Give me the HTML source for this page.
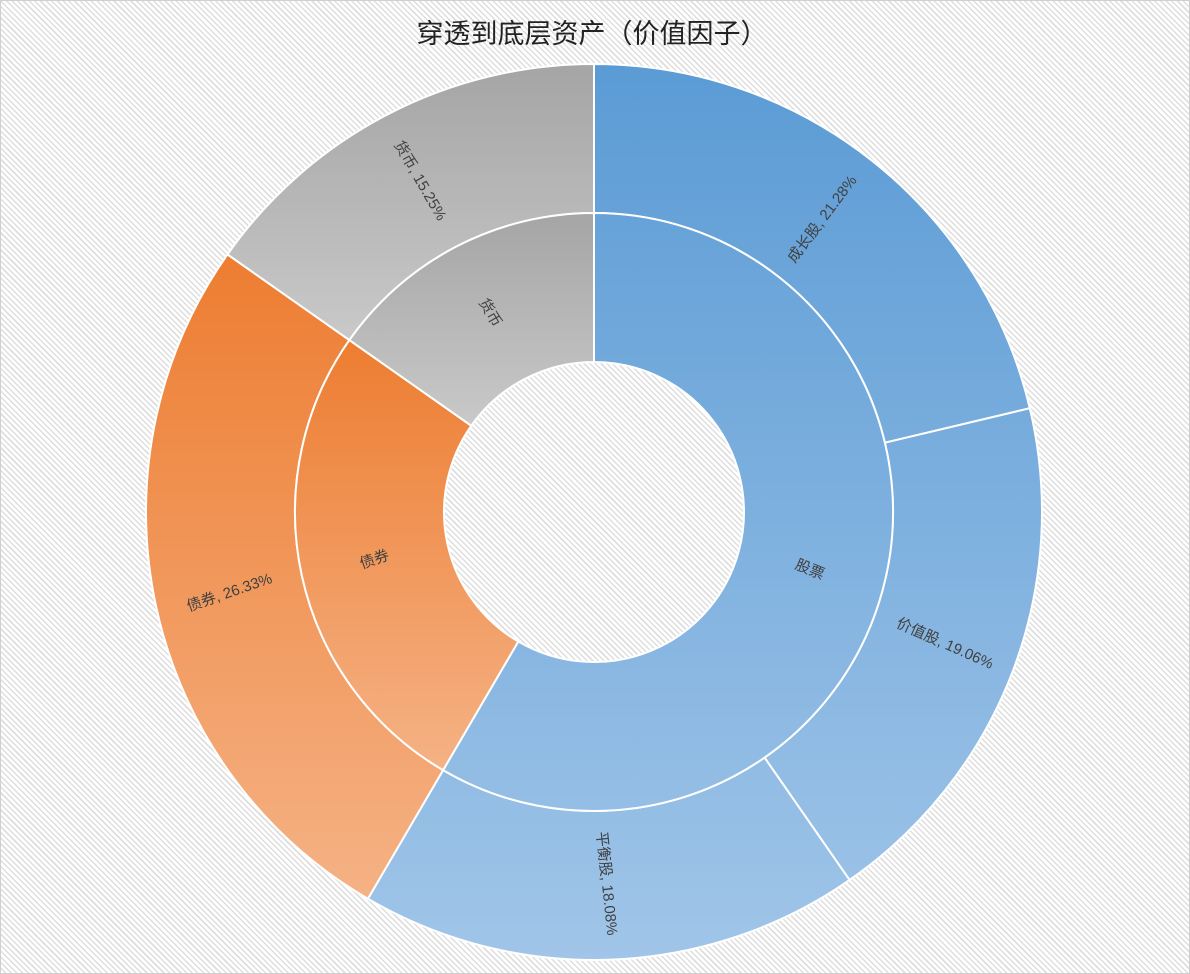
<!DOCTYPE html>
<html><head><meta charset="utf-8">
<style>
html,body{margin:0;padding:0;}
body{width:1190px;height:974px;overflow:hidden;background:#fff;}
#bg{position:absolute;left:0;top:0;width:1188px;height:972px;border:1px solid #d0d0d0;
background:repeating-linear-gradient(45deg,#fff 0px,#fff 2.5px,#dedede 2.5px,#dedede 4px);}
svg{position:absolute;left:0;top:0;}
text{font-family:"Liberation Sans","Noto Sans CJK SC",sans-serif;fill:#404040;}
</style></head><body>
<div id="bg"></div>
<svg width="1190" height="974" viewBox="0 0 1190 974">
<defs>
<linearGradient id="gb1" gradientUnits="userSpaceOnUse" x1="0" y1="64" x2="0" y2="960"><stop offset="0" stop-color="#5b9bd5"/><stop offset="1" stop-color="#a0c5e8"/></linearGradient>
<linearGradient id="go" x1="0" y1="0" x2="0" y2="1"><stop offset="0" stop-color="#ed7d31"/><stop offset="1" stop-color="#f5b285"/></linearGradient>
<linearGradient id="gg" x1="0" y1="0" x2="0" y2="1"><stop offset="0" stop-color="#a5a5a5"/><stop offset="1" stop-color="#c9c9c9"/></linearGradient>
</defs>
<g id="slices" stroke="#fff" stroke-width="2"></g>
<text x="592" y="43" font-size="27" text-anchor="middle" style="fill:#222">穿透到底层资产（价值因子）</text>
<g font-size="15" text-anchor="middle">
<text transform="translate(826,222) rotate(-53)">成长股, 21.28%</text>
<text transform="translate(943,648) rotate(24)">价值股, 19.06%</text>
<text transform="translate(602,884) rotate(84)">平衡股, 18.08%</text>
<text transform="translate(231,597) rotate(-19)">债券, 26.33%</text>
<text transform="translate(416,183) rotate(60)">货币, 15.25%</text>
<text transform="translate(486,315) rotate(60)">货币</text>
<text transform="translate(376,564) rotate(-19)">债券</text>
<text transform="translate(808,574) rotate(22)">股票</text>
</g>
</svg>
<script>
var cx=594,cy=512,g=document.getElementById('slices');
function pt(r,p){var a=p*2*Math.PI;return [cx+r*Math.sin(a),cy-r*Math.cos(a)];}
function arc(r0,r1,p0,p1,fill){
 var a=pt(r1,p0),b=pt(r1,p1),c=pt(r0,p1),d=pt(r0,p0),L=(p1-p0)>0.5?1:0;
 var s='M'+a+' A'+r1+','+r1+' 0 '+L+' 1 '+b+' L'+c+' A'+r0+','+r0+' 0 '+L+' 0 '+d+'Z';
 var e=document.createElementNS('http://www.w3.org/2000/svg','path');
 e.setAttribute('d',s);e.setAttribute('fill',fill);g.appendChild(e);}
var s1=0.2128,s2=0.4034,s3=0.5842,s4=0.8475;
arc(299,448,0,s1,'url(#gb1)');arc(299,448,s1,s2,'url(#gb1)');arc(299,448,s2,s3,'url(#gb1)');
arc(299,448,s3,s4,'url(#go)');arc(299,448,s4,1,'url(#gg)');
arc(150,299,0,s3,'url(#gb1)');arc(150,299,s3,s4,'url(#go)');arc(150,299,s4,1,'url(#gg)');
</script>
</body></html>
